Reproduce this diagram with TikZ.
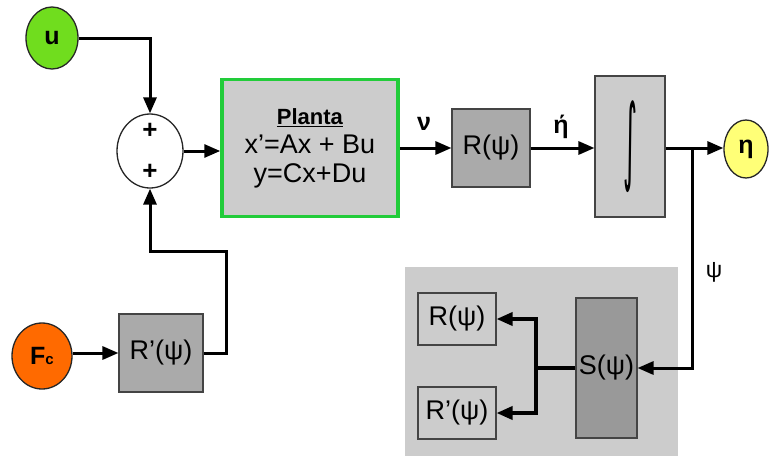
\documentclass[tikz,border=0pt]{standalone}
\usepackage{fontspec}
\usepackage{graphicx}
\setmainfont{Liberation Sans}
\newfontfamily\djv{DejaVu Sans}
\usetikzlibrary{arrows.meta,shapes.geometric}
\definecolor{ugreen}{HTML}{70DD1E}
\definecolor{plantgreen}{HTML}{22CC3A}
\definecolor{orng}{HTML}{FF6A00}
\definecolor{yel}{HTML}{FFFF77}
\definecolor{lgray}{HTML}{CCCCCC}
\definecolor{mgray}{HTML}{AAAAAA}
\definecolor{dgray}{HTML}{999999}
\definecolor{edge}{HTML}{444444}
\begin{document}
\begin{tikzpicture}[x=1pt,y=-1pt,
  blk/.style={rectangle, draw=edge, line width=1.1pt, inner sep=0pt, font=\fontsize{27}{27}\selectfont},
  ell/.style={ellipse, draw=black!85, line width=1.3pt, inner sep=0pt},
  conn/.style={line width=3pt},
  arr/.style={conn, -{Triangle[length=16pt,width=13pt]}},
  lbl/.style={inner sep=0pt, font=\bfseries\fontsize{25}{25}\selectfont}]
\useasboundingbox (0,0) rectangle (769,456);
\fill[white] (0,0) rectangle (769,456);

% gray panel
\node[rectangle, fill=lgray, minimum width=273pt, minimum height=189pt, inner sep=0pt] (panel) at (541.5,361.5) {};

% top row
\node[ell, fill=ugreen, minimum width=52pt, minimum height=62pt, font=\bfseries\fontsize{25}{25}\selectfont] (u) at (52,38) {u};
\node[ell, fill=white, minimum width=66pt, minimum height=74pt] (sum) at (150,151) {};
\node[lbl, font=\bfseries\fontsize{26}{26}\selectfont] (p1) at (150,131) {+};
\node[lbl, font=\bfseries\fontsize{26}{26}\selectfont] (p2) at (150,172) {+};
\node[rectangle, draw=plantgreen, line width=3.5pt, fill=lgray, inner sep=0pt, minimum width=176pt, minimum height=137pt, align=center, font=\fontsize{27}{29}\selectfont] (plant) at (310,148) {{\fontsize{22}{22}\selectfont\underline{\textbf{Planta}}}\\x’=Ax + Bu\\y=Cx+Du};
\node[blk, fill=mgray, minimum width=78pt, minimum height=78pt] (R) at (491,148) {R(ψ)};
\node[blk, fill=lgray, minimum width=70pt, minimum height=141pt] (int) at (630,146.5) {\resizebox*{14pt}{92pt}{\djv ∫}};
\node[ell, fill=yel, minimum width=44pt, minimum height=58pt, font=\bfseries\fontsize{25}{25}\selectfont] (eta) at (746,149) {η};

\node[lbl] (nu) at (424,124) {ν};
\node[lbl] (etad) at (561,127) {ή};
\node[inner sep=0pt, font=\fontsize{23}{23}\selectfont] (psi) at (714,272) {ψ};

% bottom-left
\node[ell, fill=orng, minimum width=60pt, minimum height=66pt, font=\bfseries\fontsize{25}{25}\selectfont] (fc) at (42,356) {F{\fontsize{15}{15}\selectfont c}};
\node[blk, fill=mgray, minimum width=84pt, minimum height=78pt] (Rp) at (161,353) {R’(ψ)};

% panel contents
\node[blk, fill=lgray, minimum width=78pt, minimum height=52pt] (iR) at (457,319) {R(ψ)};
\node[blk, fill=lgray, minimum width=78pt, minimum height=52pt] (iRp) at (457,413) {R’(ψ)};
\node[blk, fill=dgray, minimum width=61pt, minimum height=140pt] (S) at (606.5,368) {S(ψ)};

% connectors
\coordinate (j) at (692,148);
\coordinate (f1) at (226,251);
\coordinate (br) at (536,368);
\draw[arr] (u.east) -| (sum.north);
\draw[arr] (sum.east) -- (sum.east -| plant.west);
\draw[arr] (plant.east) -- (R.west);
\draw[arr] (R.east) -- (int.west |- R.east);
\draw[arr] (int.east |- j) -- (eta.west |- j);
\draw[arr] (j) |- (S.east);
\draw[arr] (fc.east |- Rp.west) -- (Rp.west);
\draw[arr] (Rp.east) -| (f1) -| (sum.south);
\draw[conn, line width=3.5pt] (S.west) -- (br);
\draw[arr, line width=3.5pt] (br) |- (iR.east);
\draw[arr, line width=3.5pt] (br) |- (iRp.east);
\end{tikzpicture}
\end{document}
